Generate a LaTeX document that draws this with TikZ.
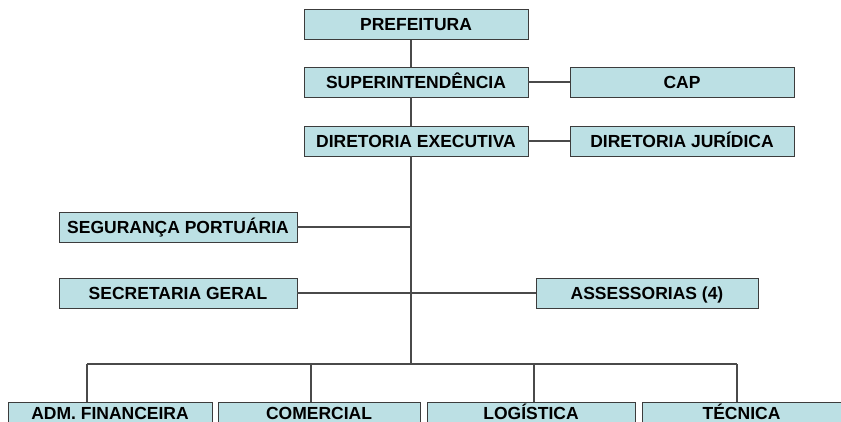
\documentclass[tikz,border=0pt]{standalone}
\usepackage{fontspec}
\setmainfont{Liberation Sans}
\usetikzlibrary{positioning}
\definecolor{boxfill}{HTML}{BCE0E4}
\definecolor{boxline}{HTML}{3C3C3C}
\definecolor{wire}{HTML}{4A4A4A}

\begin{document}
\begin{tikzpicture}[x=1pt,y=1pt,
  font=\fontsize{17.5}{20}\selectfont\bfseries,
  unit/.style={draw=boxline,line width=0.9pt,fill=boxfill,minimum width=224pt,minimum height=30pt,
    inner sep=0pt,text height=12.5pt,text depth=0pt,anchor=center},
  conn/.style={draw=wire,line width=1.1pt}]
  \useasboundingbox (0,0) rectangle (841,-421);
  % upper chain
  \node[unit] (pref) at (416,-24.5) {PREFEITURA};
  \node[unit] (sup) at (416,-82) {SUPERINTENDÊNCIA};
  \node[unit] (cap) at (682,-82) {CAP};
  \node[unit] (dir) at (416,-141) {DIRETORIA EXECUTIVA};
  \node[unit] (jur) at (682,-141) {DIRETORIA JURÍDICA};
  % staff
  \node[unit,minimum width=238pt] (seg) at (178,-227) {SEGURANÇA PORTUÁRIA};
  \node[unit,minimum width=238pt] (sec) at (178,-293) {SECRETARIA GERAL};
  \node[unit,minimum width=222pt] (ass) at (647,-293) {ASSESSORIAS (4)};
  % departments (cut by the lower edge)
  \tikzset{dept/.style={unit,minimum height=22pt}}
  \node[dept,minimum width=204pt] (adm) at (110,-413) {ADM. FINANCEIRA};
  \node[dept,minimum width=202pt] (com) at (319,-413) {COMERCIAL};
  \node[dept,minimum width=208pt] (log) at (531,-413) {LOGÍSTICA};
  \node[dept,minimum width=199pt] (tec) at (741.5,-413) {TÉCNICA};

  \coordinate (bus) at (411,-364);
  \draw[conn] (pref.south -| bus) -- (sup.north -| bus);
  \draw[conn] (sup.south -| bus) -- (dir.north -| bus);
  \draw[conn] (dir.south -| bus) -- (bus);
  \draw[conn] (sup.east) -- (cap.west);
  \draw[conn] (dir.east) -- (jur.west);
  \draw[conn] (seg.east) -- (seg.east -| bus);
  \draw[conn] (sec.east) -- (ass.west);
  \draw[conn] ([xshift=-23pt]adm.north |- bus) -- ([xshift=-4.5pt]tec.north |- bus);
  \foreach \n/\dx in {adm/-23,com/-8,log/3,tec/-4.5}
    \draw[conn] ([xshift=\dx pt]\n.north |- bus) -- ([xshift=\dx pt]\n.north);
\end{tikzpicture}
\end{document}
